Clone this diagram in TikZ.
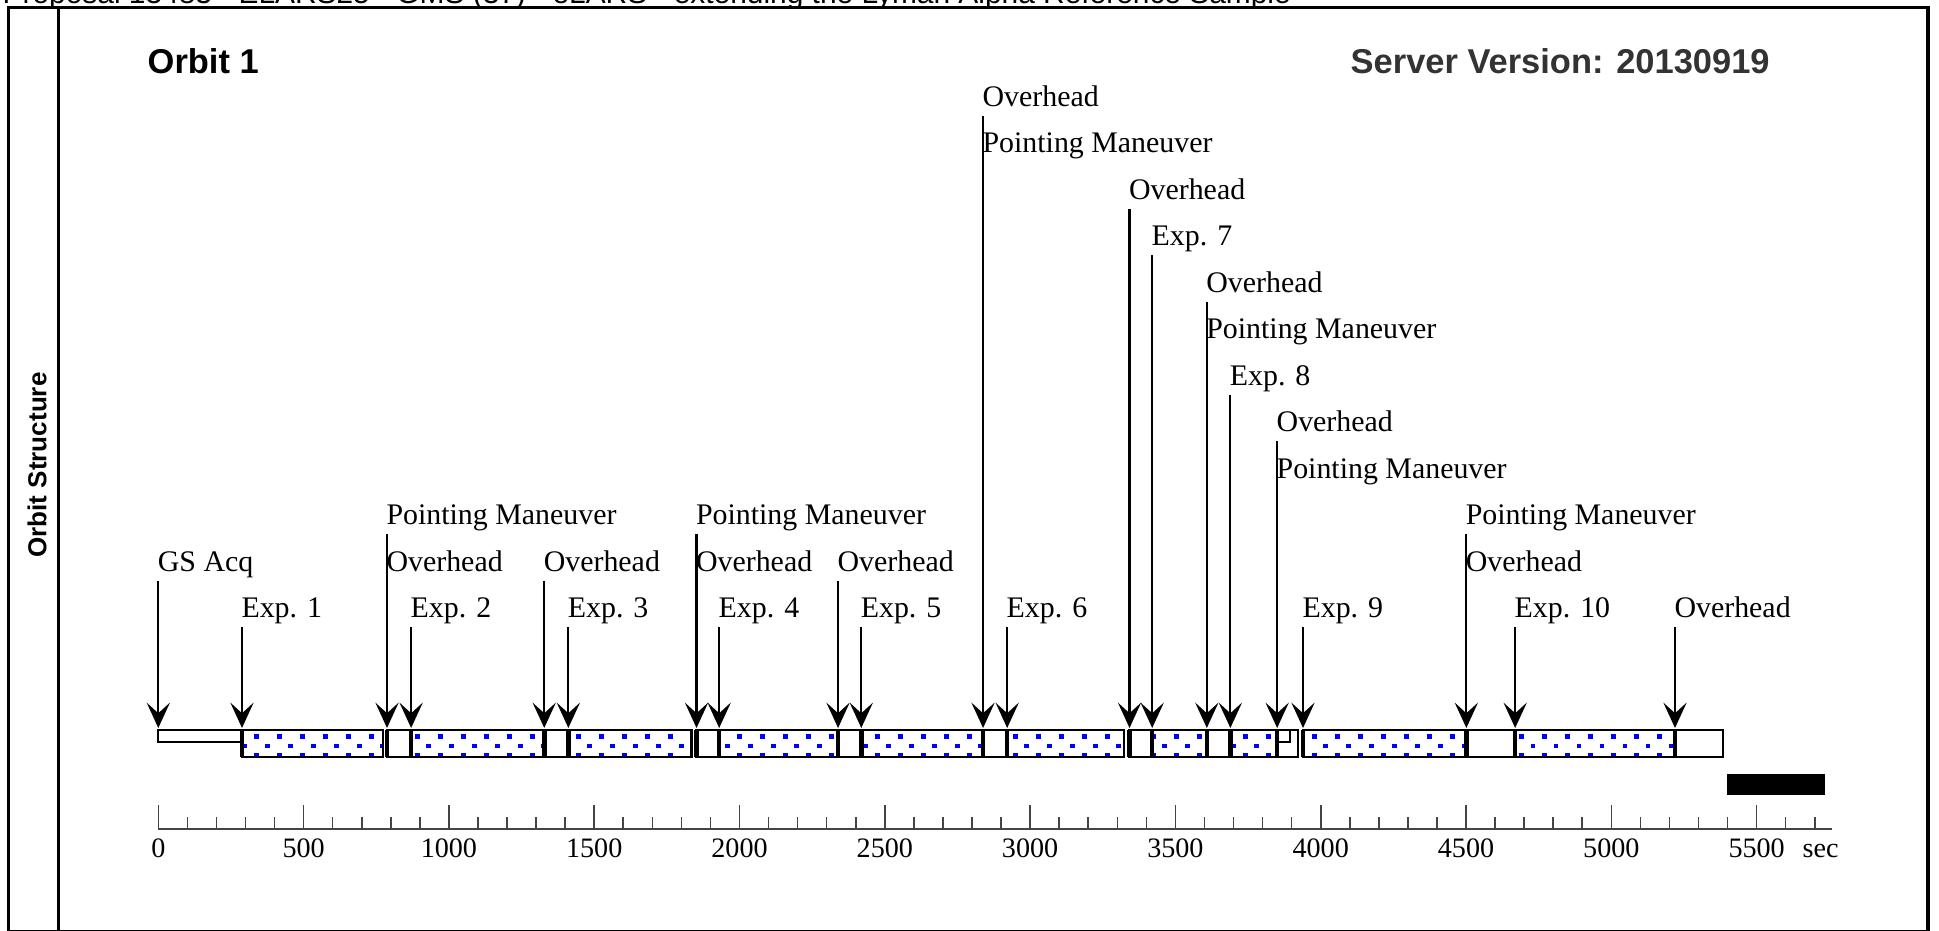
\documentclass[tikz,border=0pt]{standalone}
\usepackage{fontspec}
\setmainfont{Liberation Serif}
\newfontfamily\headfont{Liberation Sans}
\usepackage{tikz}
\usetikzlibrary{arrows.meta}
\definecolor{dotblue}{HTML}{0000FF}
\definecolor{servgray}{HTML}{333333}
\definecolor{axisgray}{HTML}{444444}
\tikzset{
  frameline/.style={draw=black, line width=1pt},
  segbox/.style  ={draw=black, line width=0.65pt},
  cutedge/.style ={draw=black, line width=1.3pt},
  evt/.style     ={draw=black, line width=0.62pt,
                   -{Stealth[length=7.2pt,width=6.6pt,inset=3pt]}},
  lab/.style     ={anchor=base west, inner sep=0pt,
                   font=\fontsize{8.5}{10}\selectfont},
  ticklab/.style ={anchor=base, inner sep=0pt,
                   font=\fontsize{8}{10}\selectfont},
  head/.style    ={anchor=base west, inner sep=0pt,
                   font=\headfont\bfseries\fontsize{9.8}{12}\selectfont},
  axisline/.style={draw=axisgray, line width=0.65pt},
  tickmark/.style={draw=axisgray, line width=0.45pt},
}
% bar segments, seconds from the start of the orbit
\def\explist{288/772, 870/1328, 1411/1835, 1930/2339, 2419/2838,
             2921/3323, 3420/3608, 3689/3850, 3939/4501, 4669/5219}
\def\ovhlist{787/870, 1328/1411, 1852/1930, 2339/2419, 2838/2921,
             3342/3420, 3608/3689, 3850/3923, 4501/4669, 5219/5385}
\def\acqlist{0/288, 3850/3895}
% name/time/row/label/label one row lower
\def\eventlist{%
  gs/0/2/GS Acq/, e1/288/1/Exp. 1/, pm1/787/3/Pointing Maneuver/Overhead,
  e2/870/1/Exp. 2/, oh1/1328/2/Overhead/, e3/1411/1/Exp. 3/,
  pm2/1852/3/Pointing Maneuver/Overhead, e4/1930/1/Exp. 4/,
  oh2/2339/2/Overhead/, e5/2419/1/Exp. 5/,
  pm3/2838/12/Overhead/Pointing Maneuver, e6/2921/1/Exp. 6/,
  oh3/3342/10/Overhead/, e7/3420/9/Exp. 7/,
  pm4/3608/8/Overhead/Pointing Maneuver, e8/3689/6/Exp. 8/,
  pm5/3850/5/Overhead/Pointing Maneuver, e9/3939/1/Exp. 9/,
  pm6/4501/3/Pointing Maneuver/Overhead, e10/4669/1/Exp. 10/,
  oh4/5219/1/Overhead/}

\begin{document}
\begin{tikzpicture}[x=0.01cm,y=-0.01cm]
\useasboundingbox (0,0) rectangle (1939,931);
\begin{scope}
  \clip (0,0) rectangle (1939,6);
  \node[anchor=base west, inner sep=0pt,
        font=\headfont\fontsize{8.5}{10}\selectfont] (prop) at (2,3.5)
       {Proposal 13483 - ELARS25 - GMS (37) - eLARS - extending the Lyman Alpha Reference Sample};
\end{scope}
\draw[frameline] (8.5,931) -- (8.5,7.5) -- (1928,7.5) -- (1928,931);
\draw[frameline] (58.5,7.5) -- (58.5,931);
\draw[line width=0.3pt] (8.5,930.5) -- (1928,930.5);
\node[head, anchor=center, rotate=90,
      font=\headfont\bfseries\fontsize{7.4}{9}\selectfont] (side) at (37,465) {Orbit Structure};
\node[head] (orbit) at (147,74) {Orbit 1};
\node[head, text=servgray] (server) at (1350,74) {Server Version: 20130919};

\begin{scope}[shift={(158.3,0)}, xscale=0.2906]
  \begin{scope}
    \clip \foreach \s/\e in \explist {(\s,730) rectangle (\e,757)};
    \foreach \i in {0,...,68}
      \foreach \j in {0,1,2} {
        \pgfmathsetmacro\dx{12.4+\i*79.15+mod(\j,2)*39.6}
        \fill[dotblue] (\dx,{734.5+9.25*\j}) rectangle ++(17,4.6);
      }
  \end{scope}
  \foreach \s/\e in \ovhlist {\draw[segbox] (\s,730) rectangle (\e,757);}
  \foreach \s/\e in \explist {\draw[segbox] (\s,730) rectangle (\e,757);}
  \foreach \s/\e in \acqlist {\draw[segbox] (\s,730) rectangle (\e,742);}

  \foreach \n/\tm/\rw/\la/\lb in \eventlist {
    \node[lab] (\n-a) at ({\tm-4},{664.5-46.5*\rw}) {\la};
    \edef\lbx{\lb}
    \ifx\lbx\empty\else
      \node[lab] (\n-b) at ({\tm-4},{711-46.5*\rw}) {\lb};
    \fi
    \coordinate (\n-top) at (\tm,{674-46.5*\rw});
    \coordinate (\n-tip) at (\tm,728);
    \draw[evt] (\n-top) -- (\n-tip);
    \ifnum\tm>0 \draw[cutedge] (\tm,730) -- (\tm,757);\fi
  }

  \draw[axisline] (0,829) -- (5760,829);
  \foreach \v in {0,100,...,5700} {\draw[tickmark] (\v,829) -- (\v,817);}
  \foreach \v in {0,500,...,5500} {
    \draw[tickmark] (\v,829) -- (\v,805);
    \node[ticklab] (t\v) at (\v,857) {\v};
  }
  \node[ticklab, anchor=base west] (sec) at (5656,857) {sec};
\end{scope}
\fill (1727,774) rectangle (1825,795);
\end{tikzpicture}
\end{document}
